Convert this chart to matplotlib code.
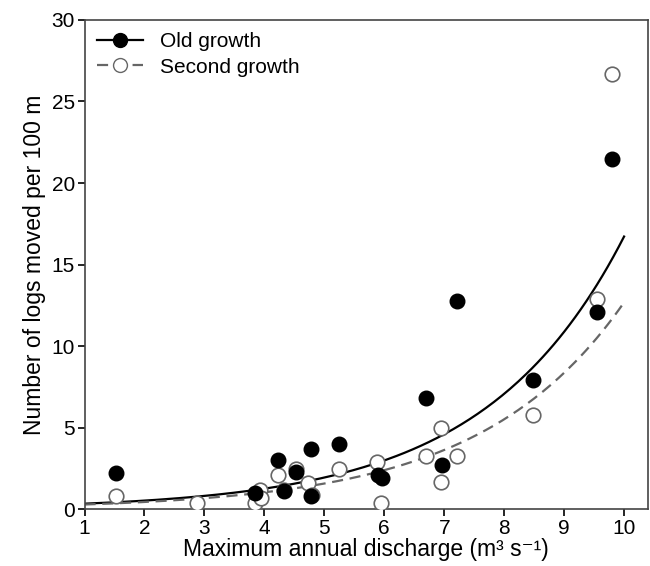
import numpy as np
import matplotlib.pyplot as plt

# observed logs moved per 100 m
old_x = [1.53, 3.85, 4.22, 4.33, 4.52, 4.78, 4.78, 5.25, 5.9, 5.97, 6.7, 6.97, 7.22, 8.48, 9.55, 9.8]
old_y = [2.2, 1.0, 3.0, 1.1, 2.3, 3.7, 0.8, 4.0, 2.1, 1.9, 6.8, 2.7, 12.8, 7.9, 12.1, 21.5]
sec_x = [1.53, 2.88, 3.85, 3.92, 3.95, 4.22, 4.33, 4.52, 4.72, 4.8, 5.25, 5.88, 5.95, 6.7, 6.95, 6.95, 7.22, 8.48, 9.55, 9.8]
sec_y = [0.8, 0.4, 0.4, 1.2, 0.7, 2.1, 1.2, 2.5, 1.6, 0.9, 2.5, 2.9, 0.4, 3.3, 5.0, 1.7, 3.3, 5.8, 12.9, 26.7]

# exponential fit parameters y = a*exp(b*x)
old_a, old_b = 0.228, 0.4295
sec_a, sec_b = 0.198, 0.416

plt.rcParams['font.family'] = ['Liberation Sans', 'DejaVu Sans']
fig, ax = plt.subplots(figsize=(6.5, 5.66), dpi=100)
fig.subplots_adjust(left=0.13, right=0.997, top=0.965, bottom=0.1)

xs = np.linspace(1, 10, 200)
ax.plot(xs, old_a * np.exp(old_b * xs), color='black', lw=1.6)
ax.plot(xs, sec_a * np.exp(sec_b * xs), color='#666666', lw=1.6, ls=(0, (5, 3)))

ax.scatter(sec_x, sec_y, s=110, facecolors='white', edgecolors='#666666', linewidths=1.2, zorder=3)
ax.scatter(old_x, old_y, s=110, color='black', zorder=4)

ax.plot([], [], color='black', marker='o', ms=10, lw=1.6, label='Old growth')
ax.plot([], [], color='#666666', marker='o', ms=10, mfc='white', lw=1.6, ls=(0, (5, 3)), label='Second growth')
ax.legend(loc='upper left', frameon=False, fontsize=15, handlelength=2.2,
          borderaxespad=0.2, labelspacing=0.3)

ax.set_xlim(1, 10.4)
ax.set_ylim(0, 30)
ax.set_xticks(range(1, 11))
ax.set_yticks(range(0, 31, 5))
ax.tick_params(labelsize=15, length=5, width=1.2, direction='out', pad=2)
for s in ax.spines.values():
    s.set_linewidth(1.2)
    s.set_color('#444444')
ax.set_xlabel('Maximum annual discharge (m³ s⁻¹)', fontsize=16.5, labelpad=0)
ax.set_ylabel('Number of logs moved per 100 m', fontsize=16.5)

fig.savefig('out.png')
